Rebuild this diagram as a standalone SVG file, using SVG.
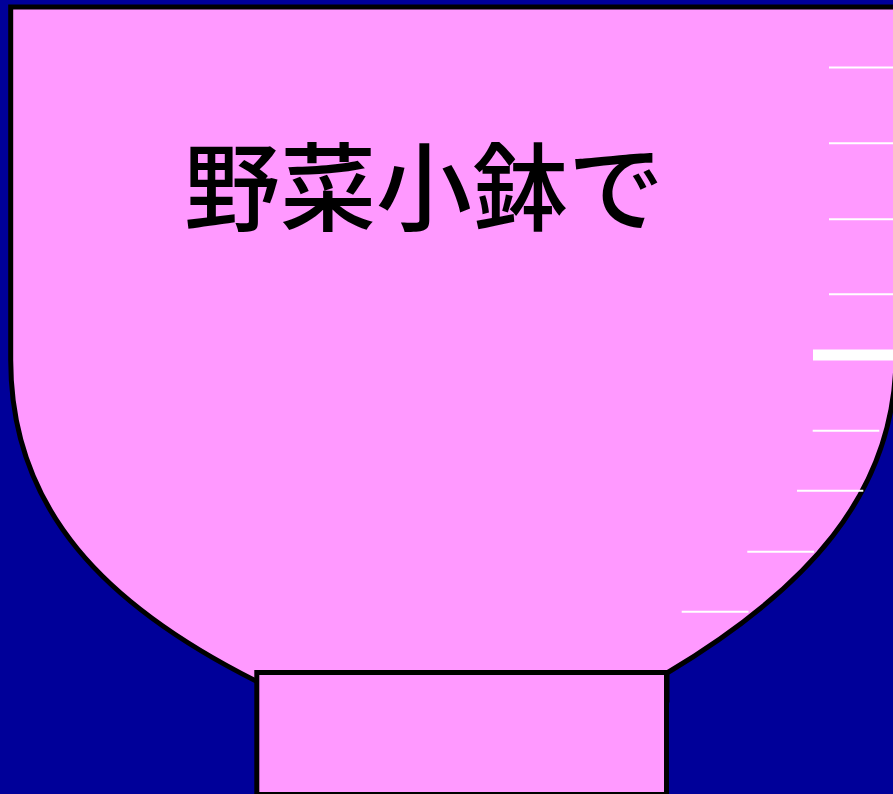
<svg xmlns="http://www.w3.org/2000/svg" width="893" height="794" viewBox="0 0 893 794">
  <style>
    .bowl { fill: #FF99FF; stroke: #000000; stroke-width: 5; stroke-linejoin: miter; }
    .tick { stroke: #FFFFFF; stroke-width: 2; fill: none; }
    .title { font-family: "Noto Sans CJK JP", "Noto Sans CJK SC", sans-serif; font-size: 96px; font-weight: 500; fill: #000000; }
  </style>
  <rect id="background" x="0" y="0" width="893" height="794" fill="#000099"/>
  <g id="bowl">
    <path class="bowl" d="M 10.7 7 H 910 V 355 L 896 355 C 896 495 804 591 667 673 L 667 700 L 258 700 L 258 682 C 106 606 10.7 510 10.7 360 Z"/>
  </g>
  <g id="foot">
    <rect class="bowl" x="256.8" y="672.5" width="409.7" height="122"/>
  </g>
  <g id="ticks">
    <line class="tick" x1="829" y1="67.5" x2="900" y2="67.5"/>
    <line class="tick" x1="829" y1="143.2" x2="900" y2="143.2"/>
    <line class="tick" x1="829" y1="219.2" x2="900" y2="219.2"/>
    <line class="tick" x1="829" y1="294.3" x2="900" y2="294.3"/>
    <rect x="813" y="349.5" width="90" height="11" fill="#FFFFFF"/>
    <line class="tick" x1="812.7" y1="430.7" x2="879.3" y2="430.7"/>
    <line class="tick" x1="797" y1="490.7" x2="863.3" y2="490.7"/>
    <line class="tick" x1="747.3" y1="551.7" x2="814" y2="551.7"/>
    <line class="tick" x1="681.7" y1="611.7" x2="748.5" y2="611.7"/>
  </g>
  <g id="title">
    <text class="title" x="184" y="223">野菜小鉢で</text>
  </g>
</svg>
